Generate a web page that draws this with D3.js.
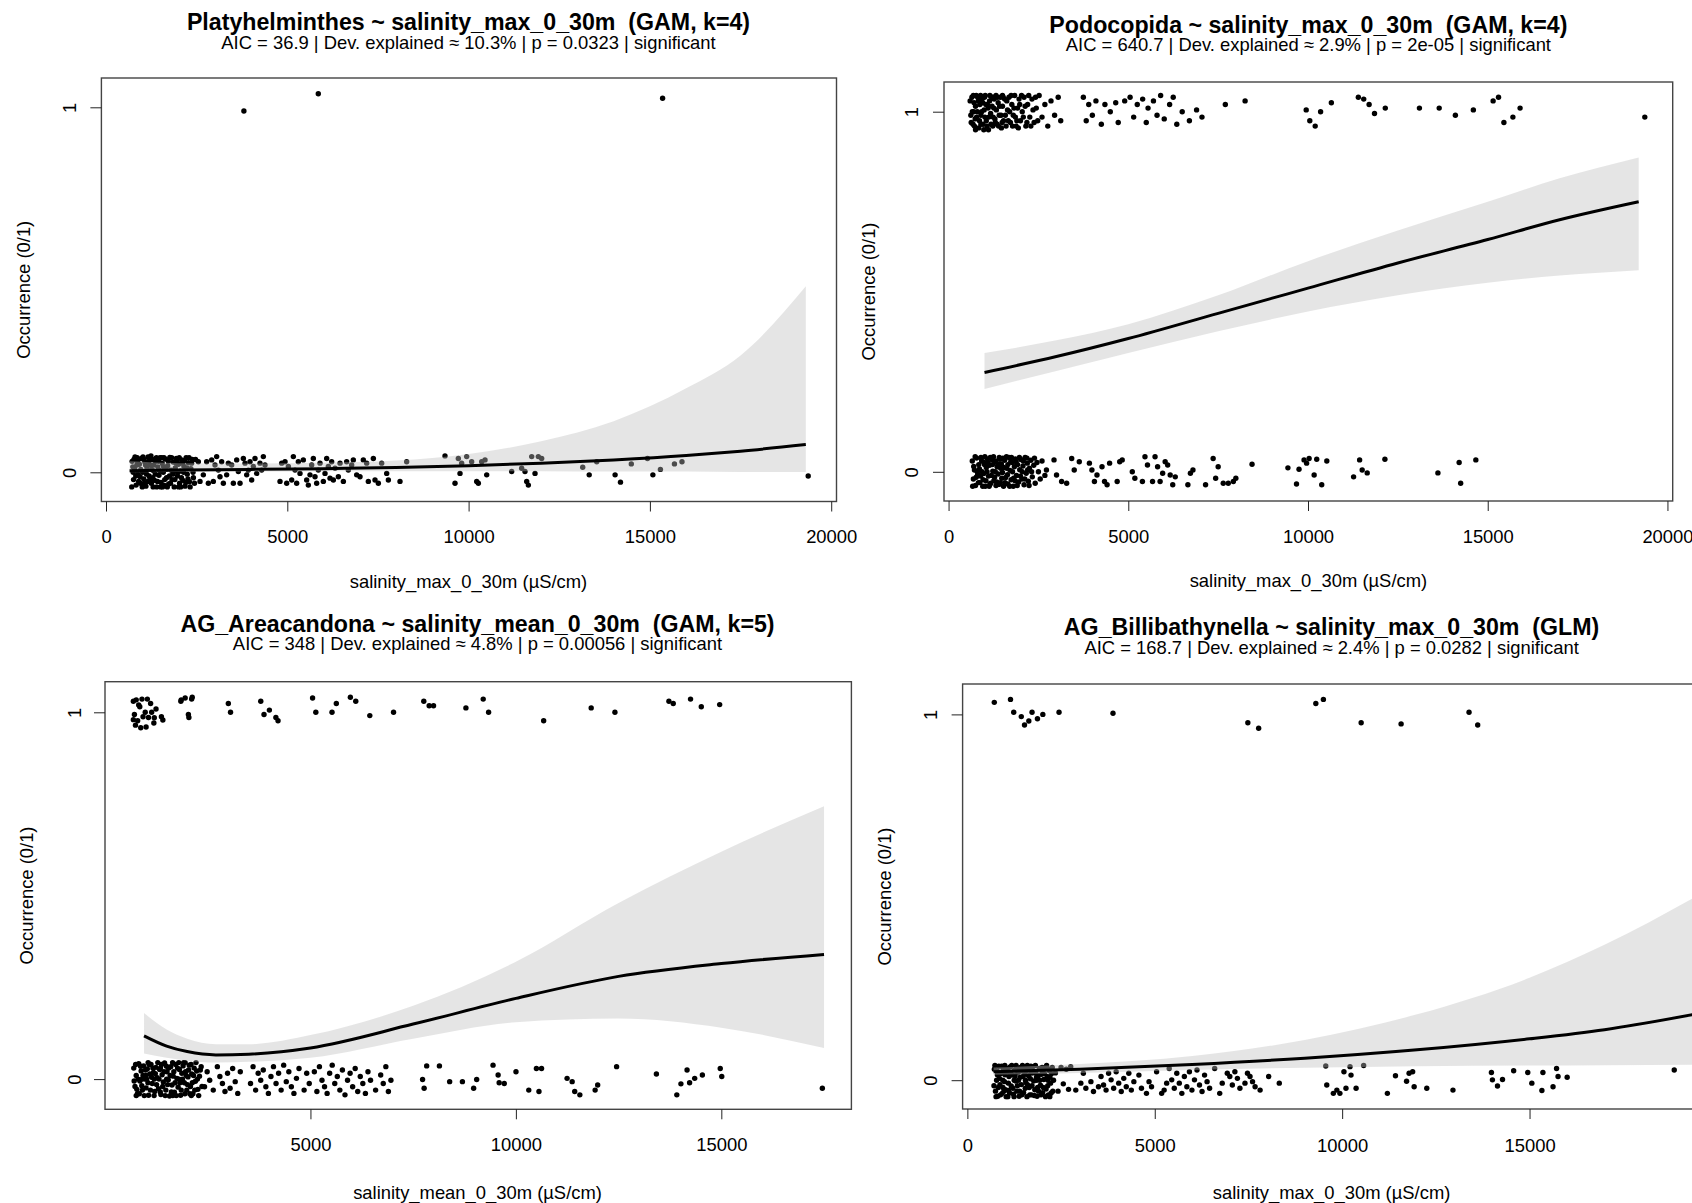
<!DOCTYPE html>
<html>
<head>
<meta charset="utf-8">
<script src="https://cdn.jsdelivr.net/npm/d3@7"></script>
<style>
  body { margin: 0; background: #fff; }
  text { font-family: "Liberation Sans", Arial, sans-serif; fill: #000; white-space: pre; }
</style>
</head>
<body>
<div id="chart"></div>
<script>
// ---- Panel 1 : Platyhelminthes ~ salinity_max_0_30m ----
const platyZeroDense = [[720,0.03],[760,-0.02],[790,0.01],[830,-0.035],[860,0.04],[880,-0.005],[920,0.022],[950,-0.03],[980,0.038],[1010,0.0],[1040,-0.018],[1070,0.028],[1100,-0.038],[1130,0.012],[1160,0.042],[1190,-0.01],[1220,0.02],[1250,-0.03],[1280,0.035],[1310,0.004],[1340,-0.022],[1370,0.03],[1400,-0.04],[1430,0.015],[1460,-0.008],[1490,0.04],[1520,-0.028],[1550,0.024],[1580,0.0],[1610,-0.036],[1640,0.036],[1670,-0.015],[1700,0.018],[1730,-0.032],[1760,0.041],[1790,0.006],[1820,-0.02],[1850,0.028],[1880,-0.04],[1910,0.012],[1940,0.038],[1970,-0.01],[2000,0.022],[2030,-0.03],[2060,0.004],[2090,0.034],[2120,-0.022],[2150,0.016],[2180,-0.038],[2210,0.04],[2240,-0.005],[2270,0.026],[2300,-0.026],[2340,0.01],[2380,0.035],[2410,-0.015],[750,0.0],[850,0.02],[940,-0.012],[1050,0.035],[1150,-0.025],[1260,0.008],[1360,-0.005],[1450,0.03],[1560,-0.04],[1660,0.008],[1750,-0.01],[1860,0.0],[1960,0.03],[2060,-0.04],[2160,0.032],[2260,-0.018],[1000,-0.04],[1200,0.04],[1600,0.04],[2000,-0.04],[800,0.042],[1300,-0.04],
  [710,-0.04],[740,0.015],[770,0.035],[820,-0.01],[870,0.03],[900,-0.025],[960,0.008],[1020,0.042],[1060,-0.03],[1090,0.02],[1120,-0.005],[1180,0.03],[1210,-0.02],[1240,0.045],[1290,-0.015],[1320,0.02],[1390,0.04],[1420,-0.025],[1480,0.005],[1510,-0.04],[1540,0.04],[1590,0.015],[1620,-0.02],[1690,-0.04],[1720,0.03],[1780,-0.03],[1810,0.04],[1840,-0.005],[1900,-0.02],[1930,0.025],[1990,0.0],[2020,0.04],[2080,-0.015],[2110,0.025],[2140,0.0],[2200,-0.028],[2230,0.012],[2290,0.04],[2320,-0.04],[2360,0.025],[2400,0.0],[2440,-0.03],[2470,0.035]];
const platyZeroSparse = [[2547,0.029],[2593,-0.025],[2684,-0.007],[2776,0.029],[2822,-0.03],[2914,0.034],[2960,-0.025],[3006,0.02],[3052,0.043],[3098,0.006],[3144,-0.012],[3190,0.029],[3236,-0.03],[3328,-0.007],[3374,0.025],[3466,0.02],[3512,-0.03],[3604,0.034],[3650,0.002],[3696,-0.03],[3788,0.038],[3834,0.025],[3880,-0.007],[3926,0.006],[3972,0.029],[4017,-0.021],[4063,0.016],[4109,0.038],[4155,-0.003],[4247,0.025],[4293,0.006],[4339,0.043],[4385,0.02],
  [4799,-0.025],[4845,0.025],[4937,0.029],[4983,-0.03],[5029,0.016],[5121,-0.021],[5167,0.043],[5213,0.006],[5258,-0.03],[5304,0.029],[5350,-0.003],[5442,0.034],[5534,-0.021],[5580,-0.035],[5626,-0.007],[5672,0.02],[5718,0.038],[5764,-0.012],[5810,-0.03],[5856,0.006],[5902,0.025],[5994,-0.025],[6040,-0.003],[6086,0.038],[6132,0.016],[6178,-0.016],[6224,0.029],[6270,-0.021],[6316,0.011],[6408,-0.012],[6454,0.025],[6546,-0.025],[6637,0.029],[6683,0.006],[6775,0.02],[6821,0.034],[6913,-0.007],[7005,-0.012],[7097,0.034],[7189,0.025],[7235,-0.025],[7373,0.038],[7419,-0.021],[7511,-0.03],[7603,0.025],[7741,-0.003],[7787,-0.021],[8108,-0.025],[8292,0.029],
  [9349,0.045],[9625,-0.03],[9717,0.038],[9763,-0.003],[9809,0.025],[9947,0.043],[10085,0.029],[10223,-0.025],[10269,-0.03],[10361,0.029],[10453,0.034],[10499,-0.007],
  [11188,0.002],[11463,0.011],[11555,0.002],[11602,-0.025],[11648,-0.035],[11740,0.043],[11832,-0.003],[11923,0.043],[12015,0.038],
  [13147,0.014],[13326,-0.007],[13534,0.029],[14040,-0.007],[14189,-0.027],[14487,0.023],[14933,0.038],[15082,-0.007],[15290,0.008],[15677,0.023],[15885,0.029],[19366,-0.01]];
const platyOnes = [[3803,0.99],[5855,1.037],[15350,1.025]];
const platyFitX = [650, 2000, 4000, 6000, 8000, 10000, 12000, 14000, 16000, 17500, 19300];
const platyFit  = [0.004, 0.006, 0.008, 0.010, 0.013, 0.018, 0.025, 0.034, 0.046, 0.058, 0.076];
const platyLo   = [0.000, 0.001, 0.002, 0.003, 0.003, 0.003, 0.003, 0.002, 0.002, 0.001, 0.001];
const platyHi   = [0.030, 0.025, 0.024, 0.026, 0.032, 0.050, 0.085, 0.140, 0.230, 0.320, 0.510];

// ---- Panel 2 : Podocopida ~ salinity_max_0_30m ----
const podoZeroDense = [[660,0.03],[690,-0.02],[720,0.005],[750,-0.038],[780,0.038],[810,-0.008],[840,0.02],[870,-0.03],[900,0.04],[930,0.0],[960,-0.022],[990,0.026],[1020,-0.04],[1050,0.012],[1080,0.036],[1110,-0.012],[1140,0.018],[1170,-0.032],[1200,0.034],[1230,0.002],[1260,-0.025],[1290,0.028],[1320,-0.038],[1350,0.014],[1380,-0.006],[1410,0.04],[1440,-0.03],[1470,0.022],[1500,-0.002],[1530,-0.04],[1560,0.032],[1590,-0.016],[1620,0.01],[1650,-0.034],[1680,0.04],[1710,0.004],[1740,-0.022],[1770,0.026],[1800,-0.04],[1830,0.014],[1860,0.036],[1890,-0.01],[1920,0.02],[1950,-0.028],[1980,0.006],[2010,0.034],[2040,-0.02],[2070,0.016],[2100,-0.036],[2130,0.04],[2160,-0.004],[2190,0.024],[2220,-0.026],[2250,0.01],[2290,0.032],[2330,-0.014],[2370,0.018],[2410,-0.032],[2460,0.026],[2500,0.0],[2550,-0.02],[2600,0.03],[2680,-0.01],[800,0.0],[1000,0.02],[1150,-0.035],[1300,0.0],[1450,0.01],[1650,0.02],[1850,-0.025],[2050,0.0],[2200,0.005],[950,-0.04],[1750,0.04],
  [670,-0.04],[700,0.015],[740,0.042],[770,-0.015],[830,-0.03],[860,0.008],[890,-0.012],[920,0.03],[980,-0.005],[1010,0.042],[1040,-0.025],[1070,0.0],[1100,0.025],[1130,-0.04],[1160,0.04],[1190,-0.01],[1220,0.02],[1250,0.042],[1280,-0.015],[1310,0.03],[1340,-0.028],[1370,0.022],[1400,-0.035],[1430,0.035],[1480,-0.018],[1510,0.038],[1540,0.012],[1570,-0.03],[1610,0.042],[1640,-0.008],[1700,-0.04],[1730,0.028],[1780,0.0],[1810,-0.018],[1880,0.028],[1910,-0.038],[1970,0.04],[2000,-0.012],[2080,0.03],[2120,-0.02],[2180,0.038],[2240,-0.038],[2310,0.0],[2390,0.038]];
const podoZeroSparse = [[2723,0.005],[2934,0.033],[3004,-0.009],[3145,-0.027],[3285,-0.032],[3426,0.037],[3496,0.005],[3637,0.028],[3918,0.024],[3988,0.005],[4058,-0.027],[4129,-0.009],[4269,0.014],[4339,-0.027],[4410,-0.036],[4480,0.024],[4691,-0.027],[4761,0.028],[4831,0.033],[5112,0.0],[5183,-0.018],[5393,-0.027],[5464,0.042],[5534,0.019],[5675,-0.027],[5745,0.042],[5815,0.014],[5885,-0.027],[5956,-0.004],[6026,0.028],[6096,0.019],[6166,-0.009],[6237,-0.036],[6307,-0.014],[6658,-0.036],[6728,-0.004],[6799,0.005],[7150,-0.036],[7361,0.037],[7431,-0.018],[7501,0.014],[7642,-0.032],[7782,-0.032],[7923,-0.027],[7993,-0.018],[8443,0.021],[9441,0.011],[9680,-0.034],[9750,0.007],[9890,0.033],[9961,0.024],[10031,0.037],[10171,-0.009],[10242,0.035],[10382,-0.036],[10523,0.03],[11268,-0.014],[11436,0.033],[11507,0.005],[11647,-0.003],[12139,0.035],[13614,-0.003],[14205,0.026],[14247,-0.032],[14669,0.033]];
const podoOneDense = [[600,1.03],[630,0.97],[660,1.0],[690,1.045],[720,0.96],[750,1.015],[780,0.985],[810,1.04],[840,0.955],[870,1.02],[900,0.99],[930,1.035],[960,0.965],[990,1.005],[1020,1.045],[1050,0.975],[1080,1.02],[1110,0.95],[1140,1.03],[1170,0.995],[1200,1.04],[1230,0.96],[1260,1.01],[1290,0.98],[1320,1.045],[1350,0.965],[1380,1.025],[1410,0.99],[1440,1.04],[1470,0.955],[1500,1.015],[1530,0.975],[1560,1.035],[1600,0.96],[1640,1.005],[1680,1.04],[1720,0.97],[1760,1.02],[1800,0.99],[1840,1.045],[1880,0.96],[1920,1.01],[1960,1.035],[2000,0.975],[2050,1.0],[2100,1.04],[2150,0.96],[2200,1.02],[2260,0.985],[2320,1.035],[2380,0.97],[2440,1.01],[2520,1.045],[2600,0.985],[2680,1.02],[2760,0.96],[2850,1.03],[2950,0.99],[3050,1.04],[3120,0.975],[700,1.0],[900,0.965],[1100,1.01],[1300,0.97],[1500,1.045],[1700,1.0],[1900,0.975],[750,0.95],[1000,1.04],[1250,1.04],
  [620,0.99],[650,1.04],[680,0.965],[710,1.025],[740,0.98],[770,1.045],[800,1.0],[830,1.03],[860,0.975],[890,1.045],[920,1.0],[950,1.025],[980,0.95],[1010,0.985],[1040,1.02],[1070,0.96],[1120,0.985],[1150,1.045],[1180,0.965],[1210,1.015],[1240,0.985],[1270,1.035],[1330,1.005],[1360,1.04],[1390,0.96],[1420,1.015],[1460,0.99],[1490,0.97],[1520,1.04],[1580,0.99],[1620,1.03],[1660,0.975],[1740,1.045],[1780,0.96],[1820,1.01],[1860,0.985],[1940,0.955],[1980,1.02],[2030,1.045],[2080,0.985],[2130,1.015],[2180,0.97],[2230,1.045],[2290,0.96],[2350,1.005],[2420,1.04],[2480,0.975]];
const podoOneSparse = [[3750,1.04],[3830,0.975],[3900,1.02],[4000,0.99],[4100,1.03],[4250,0.965],[4350,1.02],[4500,1.0],[4650,1.025],[4720,0.97],[4900,1.03],[5050,1.04],[5150,0.985],[5250,1.02],[5400,1.035],[5500,0.97],[5550,1.01],[5700,1.03],[5800,0.99],[5900,1.045],[6000,0.98],[6150,1.02],[6250,1.04],[6350,0.965],[6500,1.0],[6700,0.975],[6900,1.005],[7050,0.985],[7700,1.02],[8250,1.03],[9950,1.005],[10050,0.975],[10200,0.96],[10350,1.0],[10650,1.025],[11400,1.04],[11550,1.035],[11700,1.02],[11850,0.995],[12150,1.01],[13100,1.01],[13650,1.01],[14100,0.99],[14600,1.005],[15150,1.03],[15300,1.04],[15450,0.97],[15700,0.985],[15900,1.01],[19370,0.985]];
const podoFitX = [1000, 3000, 5000, 7500, 10000, 12500, 15000, 17000, 19200];
const podoFit  = [0.276, 0.32, 0.37, 0.44, 0.51, 0.58, 0.645, 0.70, 0.75];
const podoLo   = [0.23, 0.28, 0.33, 0.39, 0.445, 0.49, 0.525, 0.545, 0.56];
const podoHi   = [0.33, 0.365, 0.41, 0.49, 0.585, 0.67, 0.75, 0.815, 0.873];

// ---- Panel 3 : AG_Areacandona ~ salinity_mean_0_30m ----
const areaZeroDense = [[700,0.03],[730,-0.02],[760,0.01],[790,-0.04],[820,0.042],[850,-0.005],[880,0.022],[910,-0.03],[940,0.036],[970,0.0],[1000,-0.024],[1030,0.028],[1060,-0.044],[1090,0.014],[1120,0.04],[1150,-0.012],[1180,0.018],[1210,-0.034],[1240,0.032],[1270,0.004],[1300,-0.026],[1330,0.026],[1360,-0.042],[1390,0.012],[1420,-0.008],[1450,0.044],[1480,-0.03],[1510,0.02],[1540,-0.002],[1570,-0.046],[1600,0.034],[1630,-0.016],[1660,0.008],[1690,-0.036],[1720,0.04],[1750,0.002],[1780,-0.022],[1810,0.026],[1840,-0.044],[1870,0.016],[1900,0.036],[1930,-0.01],[1960,0.02],[1990,-0.03],[2020,0.006],[2050,0.038],[2080,-0.02],[2110,0.014],[2140,-0.04],[2170,0.03],[2200,-0.006],[2230,0.022],[2260,-0.028],[2300,0.008],[2340,0.034],[760,-0.045],[900,0.0],[1050,0.045],[1200,0.0],[1350,0.03],[1500,0.0],[1650,-0.045],[1800,0.0],[1950,0.045],[2100,-0.045],[2250,0.0],[1000,0.01],[1550,0.03],
  [710,-0.005],[745,0.04],[775,-0.028],[805,0.0],[835,-0.04],[865,0.035],[895,-0.018],[925,0.01],[955,-0.045],[985,0.025],[1015,0.0],[1045,-0.01],[1075,0.04],[1105,-0.03],[1135,0.005],[1165,0.03],[1195,-0.045],[1225,0.015],[1255,-0.015],[1285,0.045],[1315,0.0],[1345,-0.035],[1375,0.04],[1405,-0.02],[1435,0.02],[1465,-0.045],[1495,0.035],[1525,-0.015],[1585,0.01],[1615,-0.035],[1645,0.045],[1675,0.02],[1705,-0.01],[1735,-0.045],[1765,0.03],[1795,0.045],[1825,-0.01],[1855,-0.03],[1885,0.0],[1915,0.045],[1945,-0.04],[1975,0.01],[2005,-0.015],[2035,0.025],[2065,-0.04],[2095,0.04],[2125,-0.01],[2155,0.01],[2185,-0.03],[2215,0.045],[2280,-0.045],[2320,0.025],[2360,-0.02]];
const areaZeroSparse = [[2423,-0.021],[2486,0.02],[2548,-0.003],[2635,-0.03],[2734,0.034],[2796,0.007],[2858,-0.012],[2920,-0.034],[2983,0.016],[3045,-0.025],[3107,0.029],[3169,-0.007],[3231,-0.039],[3293,0.02],[3542,-0.012],[3604,0.034],[3666,-0.03],[3728,0.016],[3790,-0.003],[3852,0.025],[3915,-0.021],[3977,-0.039],[4039,0.007],[4101,0.034],[4163,-0.012],[4225,0.016],[4287,-0.03],[4349,0.038],[4412,-0.007],[4474,0.02],[4536,-0.021],[4598,-0.039],[4660,0.002],[4722,0.029],[4846,-0.03],[4909,0.016],[4971,-0.012],[5095,0.02],[5157,-0.034],[5219,0.034],[5281,-0.003],[5343,-0.021],[5406,-0.039],[5468,0.016],[5530,0.038],[5592,-0.012],[5654,0.007],[5716,-0.03],[5778,0.025],[5841,-0.043],[5903,-0.003],[5965,0.016],[6027,-0.021],[6089,0.029],[6151,-0.034],[6213,0.007],[6275,-0.012],[6338,-0.039],[6400,0.02],[6462,-0.003],[6586,-0.03],[6710,0.011],[6772,-0.012],[6835,0.034],[6897,-0.034],[6959,-0.003],
  [7729,-0.001],[7767,-0.025],[7829,0.036],[8139,0.036],[8388,-0.007],[8699,-0.007],[8972,-0.025],[9046,-0.001],[9444,0.038],[9568,0.011],[9593,-0.01],[9717,-0.012],[10003,0.02],[10314,-0.03],[10500,0.029],[10562,-0.034],[10625,0.029],[11246,0.002],[11370,-0.007],[11432,-0.034],[11557,-0.043],[11929,-0.03],[11991,-0.016],[12451,0.034],[13420,0.014],[13917,-0.043],[14017,-0.013],[14166,0.025],[14228,-0.01],[14352,0.002],[14539,0.011],[14974,0.029],[15011,0.007],[17459,-0.025]];
const areaOnes = [[690,1.03],[716,0.994],[795,0.977],[847,1.015],[900,1.036],[979,1.0],[1058,0.986],[1110,1.024],[1189,0.971],[742,0.965],[926,0.988],[1136,1.0],[1031,1.036],[690,0.98],[1242,1.009],[1373,0.988],[760,1.034],[820,1.02],[1000,0.96],[1200,0.985],[870,0.958],[1408,0.979],[1846,1.03],[1855,1.034],[1951,1.039],[2030,0.994],[2042,0.986],[2109,1.036],[2123,1.041],[3002,1.024],[3055,1.0],[3791,1.03],[3870,0.994],[4001,1.006],[4159,0.986],[4211,0.977],[5052,1.039],[5131,1.0],[5525,1.0],[5630,1.024],[5972,1.041],[6103,1.03],[6445,0.991],[7023,1.0],[7759,1.03],[7890,1.018],[7996,1.018],[8784,1.012],[9205,1.036],[9336,1.0],[10676,0.977],[11833,1.012],[12411,1.0],[13725,1.03],[13830,1.024],[14251,1.036],[14513,1.015],[14960,1.021]];
const areaFitX = [950, 1500, 2000, 2700, 3500, 5000, 7500, 10000, 12500, 15000, 17500];
const areaFit  = [0.118, 0.09, 0.075, 0.066, 0.068, 0.085, 0.15, 0.22, 0.28, 0.315, 0.34];
const areaLo   = [0.07, 0.058, 0.05, 0.045, 0.047, 0.058, 0.11, 0.155, 0.165, 0.14, 0.085];
const areaHi   = [0.18, 0.135, 0.11, 0.095, 0.095, 0.12, 0.2, 0.32, 0.48, 0.62, 0.744];

// ---- Panel 4 : AG_Billibathynella ~ salinity_max_0_30m ----
const billiZeroDense = [[720,0.03],[750,-0.03],[780,0.0],[810,-0.044],[840,0.038],[870,-0.012],[900,0.018],[930,-0.036],[960,0.03],[990,-0.004],[1020,-0.026],[1050,0.024],[1080,-0.045],[1110,0.01],[1140,0.036],[1170,-0.016],[1200,0.014],[1230,-0.038],[1260,0.028],[1290,-0.002],[1320,-0.03],[1350,0.022],[1380,-0.044],[1410,0.008],[1440,-0.012],[1470,0.04],[1500,-0.034],[1530,0.016],[1560,-0.006],[1590,-0.045],[1620,0.03],[1650,-0.02],[1680,0.004],[1710,-0.04],[1740,0.036],[1770,-0.002],[1800,-0.026],[1830,0.02],[1860,-0.044],[1890,0.012],[1920,0.032],[1950,-0.014],[1980,0.016],[2010,-0.034],[2040,0.002],[2070,0.034],[2100,-0.024],[2130,0.01],[2160,-0.04],[2190,0.026],[2220,-0.008],[2250,0.018],[2280,-0.03],[800,0.015],[950,-0.02],[1100,-0.028],[1250,0.0],[1400,0.034],[1550,0.0],[1700,0.02],[1850,0.0],[2000,0.02],[2150,0.0],[1000,0.04],[1300,0.04],[1600,0.04],[1900,-0.03],[2200,-0.045],
  [710,-0.015],[735,0.04],[765,-0.045],[795,0.025],[825,-0.02],[855,0.005],[885,-0.04],[915,0.038],[945,0.0],[975,-0.03],[1005,0.015],[1035,-0.045],[1065,0.032],[1095,-0.008],[1125,-0.035],[1155,0.02],[1185,0.04],[1215,-0.022],[1245,-0.045],[1275,0.012],[1305,0.03],[1335,-0.015],[1365,0.0],[1395,-0.03],[1425,0.025],[1455,-0.04],[1485,0.01],[1515,0.035],[1545,-0.022],[1575,0.025],[1605,-0.012],[1635,0.012],[1665,-0.04],[1695,0.038],[1725,-0.015],[1755,0.02],[1785,-0.042],[1815,0.04],[1845,0.008],[1875,-0.02],[1935,0.0],[1965,-0.04],[1995,0.035],[2025,-0.02],[2055,0.018],[2085,-0.045],[2115,0.04],[2145,-0.015],[2175,0.03],[2205,0.008],[2235,-0.035],[2265,0.035],[2300,0.0]];
const billiZeroSparse = [[2350,0.02],[2420,-0.03],[2500,0.035],[2560,-0.01],[2640,0.03],[2700,-0.025],[2758,0.037],[2893,-0.027],[3028,-0.008],[3095,0.019],[3162,-0.022],[3297,-0.004],[3365,-0.031],[3499,-0.018],[3567,0.01],[3634,-0.013],[3701,-0.027],[3769,0.019],[3836,0.001],[3904,-0.022],[3971,0.023],[4038,-0.008],[4106,-0.031],[4173,0.005],[4240,-0.018],[4308,0.019],[4375,-0.027],[4443,-0.004],[4577,0.014],[4645,-0.022],[4779,-0.036],[4847,-0.004],[4914,-0.018],[5049,0.023],[5184,-0.036],[5251,-0.027],[5318,-0.008],[5386,0.032],[5453,0.001],[5521,-0.022],[5588,0.019],[5655,-0.008],[5723,-0.036],[5790,0.01],[5857,-0.018],[5925,0.023],[5992,-0.027],[6060,0.001],[6127,0.028],[6194,-0.013],[6262,-0.031],[6329,0.014],[6396,-0.004],[6464,-0.022],[6599,0.032],[6733,-0.036],[6801,-0.008],[6935,0.019],[7003,0.01],[7070,-0.013],[7138,0.023],[7205,0.005],[7272,-0.022],[7407,-0.008],[7474,0.019],[7542,0.01],[7609,-0.004],[7677,-0.018],[7811,-0.027],[8040,0.01],[8323,-0.008],
  [9563,0.039],[9590,-0.013],[9765,-0.036],[9859,-0.027],[9940,-0.036],[10048,0.023],[10102,-0.022],[10210,0.037],[10237,0.014],[10372,-0.022],[10574,0.04],[11207,-0.036],[11423,0.012],[11719,-0.003],[11786,0.019],[11881,0.023],[11921,-0.018],[12258,-0.022],[12957,-0.027],[13983,0.021],[14010,0.001],[14145,-0.016],[14279,0.002],[14576,0.026],[14953,0.021],[15061,-0.008],[15330,-0.028],[15357,0.021],[15627,-0.018],[15721,0.032],[15761,0.01],[16004,0.008],[18861,0.028]];
const billiOnes = [[719,1.033],[1151,1.041],[1237,1.006],[1439,0.994],[1525,0.971],[1640,0.982],[1726,1.006],[1870,0.988],[2014,1.0],[2446,1.006],[3886,1.003],[7484,0.977],[7772,0.962],[9298,1.03],[9500,1.041],[10507,0.977],[11573,0.974],[13386,1.006],[13617,0.971]];
const billiFitX = [700, 3000, 6000, 9000, 12000, 15000, 17000, 19400];
const billiFit  = [0.023, 0.03, 0.043, 0.06, 0.083, 0.113, 0.138, 0.18];
const billiLo   = [0.015, 0.02, 0.028, 0.034, 0.038, 0.04, 0.041, 0.042];
const billiHi   = [0.035, 0.044, 0.066, 0.11, 0.18, 0.28, 0.37, 0.50];

const maxTicks = [0, 5000, 10000, 15000, 20000];
const meanTicks = [5000, 10000, 15000];

// panel layout (pixel positions, taken from the original figure)
const panels = [
  {
    title: "Platyhelminthes ~ salinity_max_0_30m  (GAM, k=4)",
    subtitle: "AIC = 36.9 | Dev. explained \u2248 10.3% | p = 0.0323 | significant",
    xLabel: "salinity_max_0_30m (\u00b5S/cm)",
    pts: [].concat(platyZeroDense, platyZeroSparse, platyOnes),
    fitX: platyFitX, fit: platyFit, lo: platyLo, hi: platyHi,
    xTicks: maxTicks, xDomain: [-127, 20146],
    box: {l: 101.4, r: 836.5, t: 78, b: 501.5}, y0: 472.3, y1: 107.3,
    titleX: 468.5, titleY: 30, subY: 48.5, yLabX: 30, yTickX: 76, xTickY: 543, xLabY: 588
  },
  {
    title: "Podocopida ~ salinity_max_0_30m  (GAM, k=4)",
    subtitle: "AIC = 640.7 | Dev. explained \u2248 2.9% | p = 2e-05 | significant",
    xLabel: "salinity_max_0_30m (\u00b5S/cm)",
    pts: [].concat(podoZeroDense, podoZeroSparse, podoOneDense, podoOneSparse),
    fitX: podoFitX, fit: podoFit, lo: podoLo, hi: podoHi,
    xTicks: maxTicks, xDomain: [-127, 20146],
    box: {l: 944, r: 1672.7, t: 82, b: 501}, y0: 471.8, y1: 111.7,
    titleX: 1308.4, titleY: 32.5, subY: 50.5, yLabX: 875, yTickX: 918, xTickY: 543, xLabY: 587
  },
  {
    title: "AG_Areacandona ~ salinity_mean_0_30m  (GAM, k=5)",
    subtitle: "AIC = 348 | Dev. explained \u2248 4.8% | p = 0.00056 | significant",
    xLabel: "salinity_mean_0_30m (\u00b5S/cm)",
    pts: [].concat(areaZeroDense, areaZeroSparse, areaOnes),
    fitX: areaFitX, fit: areaFit, lo: areaLo, hi: areaHi,
    xTicks: meanTicks, xDomain: [0, 18166],
    box: {l: 105, r: 851.4, t: 681.7, b: 1109.3}, y0: 1079.1, y1: 712.3,
    titleX: 477.5, titleY: 631.5, subY: 649.5, yLabX: 33, yTickX: 80.5, xTickY: 1151.5, xLabY: 1198.5
  },
  {
    title: "AG_Billibathynella ~ salinity_max_0_30m  (GLM)",
    subtitle: "AIC = 168.7 | Dev. explained \u2248 2.4% | p = 0.0282 | significant",
    xLabel: "salinity_max_0_30m (\u00b5S/cm)",
    pts: [].concat(billiZeroDense, billiZeroSparse, billiOnes),
    fitX: billiFitX, fit: billiFit, lo: billiLo, hi: billiHi,
    xTicks: maxTicks, xDomain: [-127, 20146],
    box: {l: 962.6, r: 1722.4, t: 684, b: 1109}, y0: 1080.2, y1: 714.4,
    titleX: 1331.6, titleY: 635, subY: 653.5, yLabX: 891, yTickX: 937, xTickY: 1152, xLabY: 1198.5
  }
];

const W = 1692, H = 1203;
const svg = d3.select("#chart").append("svg")
    .attr("width", W)
    .attr("height", H);

svg.append("rect").attr("width", W).attr("height", H).attr("fill", "#fff");

function drawPanel(p, i) {
    const x = d3.scaleLinear().domain(p.xDomain).range([p.box.l, p.box.r]);
    const y = d3.scaleLinear().domain([0, 1]).range([p.y0, p.y1]);
    const g = svg.append("g");

    g.append("clipPath").attr("id", "clip" + i)
      .append("rect")
        .attr("x", p.box.l).attr("y", p.box.t)
        .attr("width", p.box.r - p.box.l).attr("height", p.box.b - p.box.t);

    const plot = g.append("g").attr("clip-path", "url(#clip" + i + ")");

    // jittered observations
    plot.selectAll("circle").data(p.pts).join("circle")
        .attr("cx", d => x(d[0]))
        .attr("cy", d => y(d[1]))
        .attr("r", 2.7)
        .attr("fill", "#000");

    const curve = p.fitX.map((v, k) => ({x: v, fit: p.fit[k], lo: p.lo[k], hi: p.hi[k]}));

    // confidence band (semi transparent, drawn over points like in R)
    plot.append("path").datum(curve)
        .attr("fill", "rgba(190,190,190,0.4)")
        .attr("d", d3.area().x(d => x(d.x)).y0(d => y(d.lo)).y1(d => y(d.hi)).curve(d3.curveMonotoneX));

    // fitted probability
    plot.append("path").datum(curve)
        .attr("fill", "none")
        .attr("stroke", "#000")
        .attr("stroke-width", 3)
        .attr("d", d3.line().x(d => x(d.x)).y(d => y(d.fit)).curve(d3.curveMonotoneX));

    // box
    g.append("rect")
        .attr("x", p.box.l).attr("y", p.box.t)
        .attr("width", p.box.r - p.box.l).attr("height", p.box.b - p.box.t)
        .attr("fill", "none").attr("stroke", "#444").attr("stroke-width", 1.4);

    // x axis
    const xa = g.append("g")
        .attr("transform", "translate(0," + p.box.b + ")")
        .call(d3.axisBottom(x).tickValues(p.xTicks).tickFormat(d3.format("d")).tickSize(10));
    xa.select(".domain").remove();
    xa.selectAll("line").attr("stroke", "#222");
    xa.selectAll("text")
        .attr("y", p.xTickY - p.box.b).attr("dy", null)
        .style("font-size", "18.4px").style("font-family", "Liberation Sans, Arial, sans-serif");

    // y axis (labels parallel to the axis, as in base R)
    const ya = g.append("g")
        .attr("transform", "translate(" + p.box.l + ",0)")
        .call(d3.axisLeft(y).tickValues([0, 1]).tickFormat(d3.format("d")).tickSize(11));
    ya.select(".domain").remove();
    ya.selectAll("line").attr("stroke", "#222");
    ya.selectAll("text")
        .attr("x", null).attr("dy", null)
        .attr("text-anchor", "middle")
        .attr("transform", "translate(" + (p.yTickX - p.box.l) + ",0) rotate(-90)")
        .style("font-size", "18.4px").style("font-family", "Liberation Sans, Arial, sans-serif");

    // titles and axis labels
    g.append("text")
        .attr("x", p.titleX).attr("y", p.titleY)
        .attr("text-anchor", "middle")
        .style("font-size", "23.2px").style("font-weight", "bold")
        .text(p.title);
    g.append("text")
        .attr("x", p.titleX).attr("y", p.subY)
        .attr("text-anchor", "middle")
        .style("font-size", "18.4px")
        .text(p.subtitle);
    g.append("text")
        .attr("x", p.titleX).attr("y", p.xLabY)
        .attr("text-anchor", "middle")
        .style("font-size", "18.4px")
        .text(p.xLabel);
    g.append("text")
        .attr("transform", "translate(" + p.yLabX + "," + ((p.box.t + p.box.b) / 2) + ") rotate(-90)")
        .attr("text-anchor", "middle")
        .style("font-size", "18.4px")
        .text("Occurrence (0/1)");
}

panels.forEach(drawPanel);
</script>
</body>
</html>
